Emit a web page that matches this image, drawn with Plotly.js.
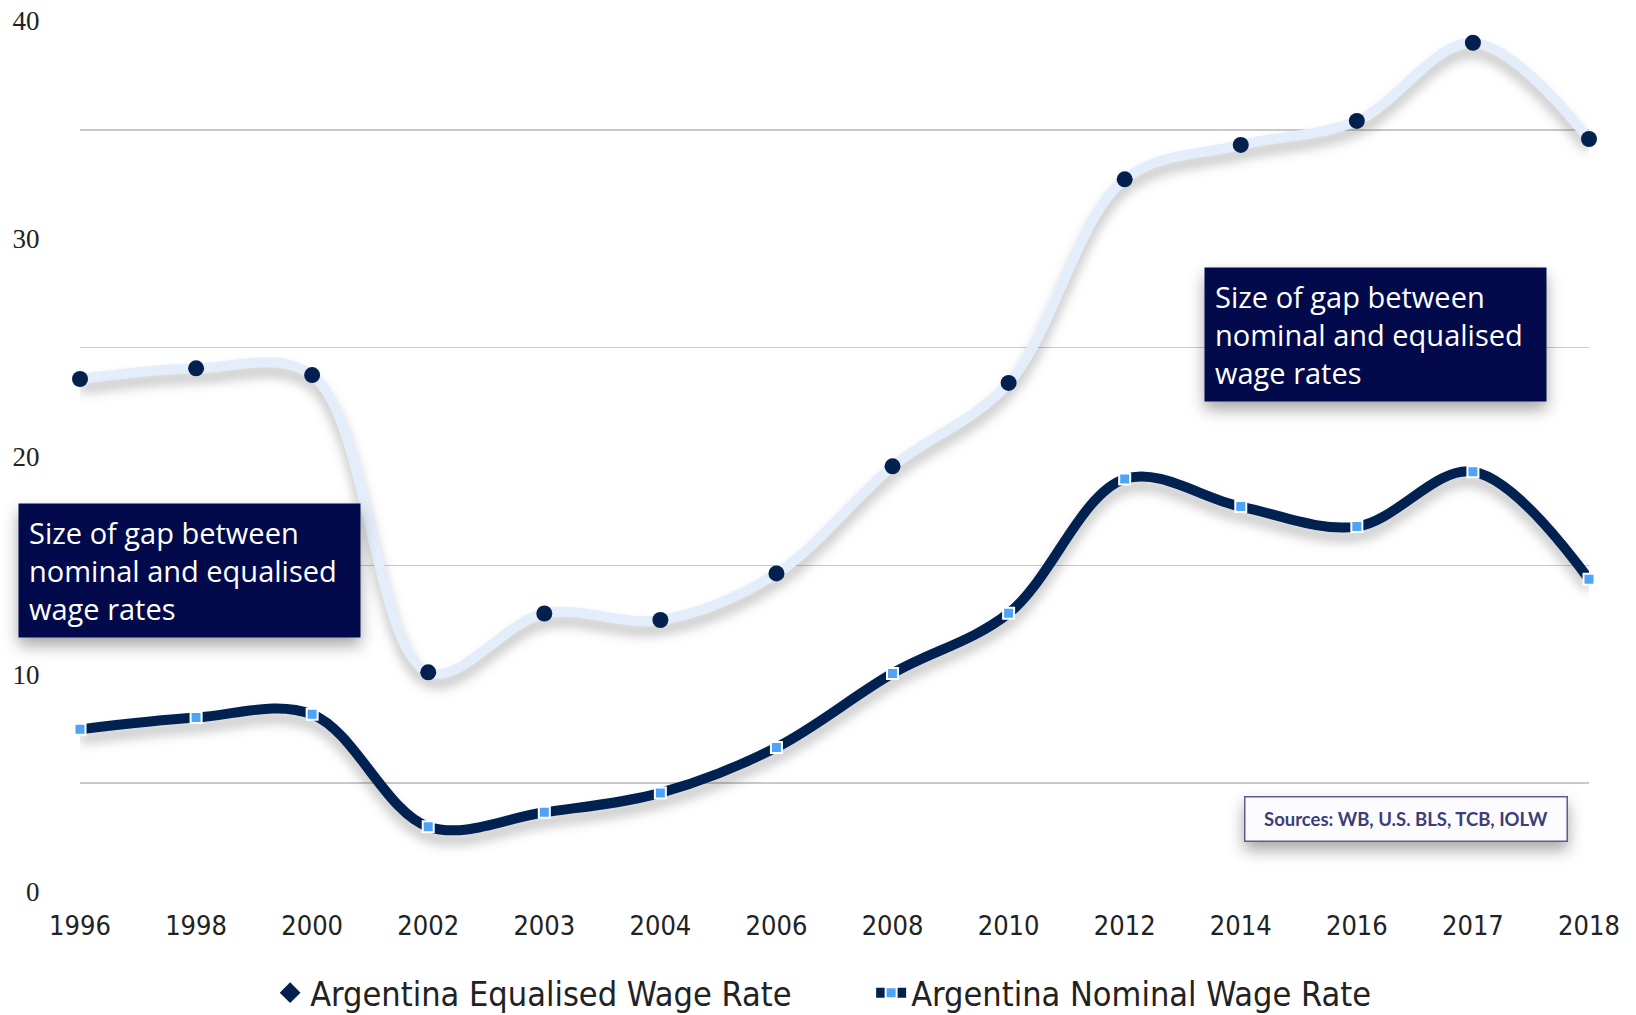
<!DOCTYPE html>
<html><head><meta charset="utf-8">
<script src="https://cdn.plot.ly/plotly-3.0.1.min.js"></script>
<style>
html,body{margin:0;padding:0;background:#fff;}
#chart{width:1636px;height:1015px;}
.scatterlayer .trace .js-line{filter:drop-shadow(0px 9px 6px rgba(0,0,0,0.25));}
.annotation rect.bg{filter:drop-shadow(0px 8px 8px rgba(0,0,0,0.35));}
</style></head><body><div id="chart"></div>
<script>
const years = ['1996','1998','2000','2002','2003','2004','2006','2008','2010','2012','2014','2016','2017','2018'];
const equalisedWage = [23.56,24.05,23.74,10.09,12.79,12.49,14.63,19.55,23.38,32.73,34.31,35.41,39.0,34.58];
const nominalWage = [7.47,8.01,8.16,3.00,3.66,4.55,6.64,10.04,12.80,18.97,17.70,16.78,19.30,14.36];
const yTickVals = [0,10,20,30,40];
const gridVals = [5,15,25,35];
const seriesNames = ['Argentina Equalised Wage Rate','Argentina Nominal Wage Rate'];
const gapNote = 'Size of gap between<br>nominal and equalised<br>wage rates';
const sourceNote = 'Sources: WB, U.S. BLS, TCB, IOLW';

const condensed = '"Liberation Sans Narrow", "DejaVu Sans Condensed", Lato, sans-serif';
const navy = '#03204f';

const traces = [
  {
    x: years, y: equalisedWage, type: 'scatter', mode: 'lines+markers',
    name: seriesNames[0], showlegend: false, cliponaxis: false,
    line: {color: '#e4eefb', width: 10, shape: 'spline', smoothing: 1},
    marker: {symbol: 'circle', size: 16, color: navy}
  },
  {
    x: [null], y: [null], type: 'scatter', mode: 'markers',
    name: seriesNames[0],
    marker: {symbol: 'diamond', size: 16, color: navy}
  },
  {
    x: years, y: nominalWage, type: 'scatter', mode: 'lines+markers',
    name: seriesNames[1], cliponaxis: false,
    line: {color: '#012251', width: 10, shape: 'spline', smoothing: 1},
    marker: {symbol: 'square', size: 11, color: '#4da3f7', line: {color: '#ffffff', width: 2}}
  }
];

const layout = {
  width: 1636, height: 1015,
  margin: {l: 80, r: 47, t: 21, b: 123, autoexpand: false},
  paper_bgcolor: '#ffffff', plot_bgcolor: '#ffffff',
  showlegend: true,
  xaxis: {
    type: 'category', range: [0, 13], autorange: false,
    showgrid: false, zeroline: false, showline: false,
    ticks: 'outside', ticklen: 10, tickcolor: 'rgba(0,0,0,0)',
    tickfont: {family: condensed, size: 27, color: '#222222'},
    fixedrange: true
  },
  yaxis: {
    range: [0, 40], autorange: false,
    tickmode: 'array', tickvals: yTickVals,
    showgrid: false, zeroline: false, showline: false,
    ticks: 'outside', ticklen: 34, tickcolor: 'rgba(0,0,0,0)',
    tickfont: {family: '"Liberation Serif", serif', size: 27, color: '#222222'},
    minor: {tickmode: 'array', tickvals: gridVals, showgrid: true, gridcolor: '#c9c9c9', gridwidth: 1.5, ticks: ''},
    fixedrange: true
  },
  legend: {
    orientation: 'h', x: 0.126, xanchor: 'left', y: -0.116, yanchor: 'middle',
    entrywidth: 556,
    font: {family: condensed, size: 34, color: '#222222'},
    bgcolor: 'rgba(0,0,0,0)'
  },
  annotations: [
    {
      xref: 'paper', yref: 'paper', x: -0.0411, y: 0.4466, xanchor: 'left', yanchor: 'top',
      text: gapNote, showarrow: false, align: 'left', valign: 'middle',
      bgcolor: '#030a4c', borderpad: 10, width: 321, height: 113,
      font: {family: '"Open Sans", sans-serif', size: 29, color: '#ffffff'}
    },
    {
      xref: 'paper', yref: 'paper', x: 0.7449, y: 0.7176, xanchor: 'left', yanchor: 'top',
      text: gapNote, showarrow: false, align: 'left', valign: 'middle',
      bgcolor: '#030a4c', borderpad: 10, width: 321, height: 113,
      font: {family: '"Open Sans", sans-serif', size: 29, color: '#ffffff'}
    },
    {
      xref: 'paper', yref: 'paper', x: 0.7714, y: 0.1102, xanchor: 'left', yanchor: 'top',
      text: sourceNote, showarrow: false, align: 'center', valign: 'middle',
      bgcolor: '#fcfcfe', bordercolor: '#5b5b95', borderwidth: 1.5, borderpad: 0,
      width: 321, height: 43,
      font: {family: 'Lato, sans-serif', size: 18.5, color: '#3d3d7a', weight: 'bold'}
    }
  ]
};

Plotly.newPlot('chart', traces, layout, {displayModeBar: false, staticPlot: true});
</script></body></html>
